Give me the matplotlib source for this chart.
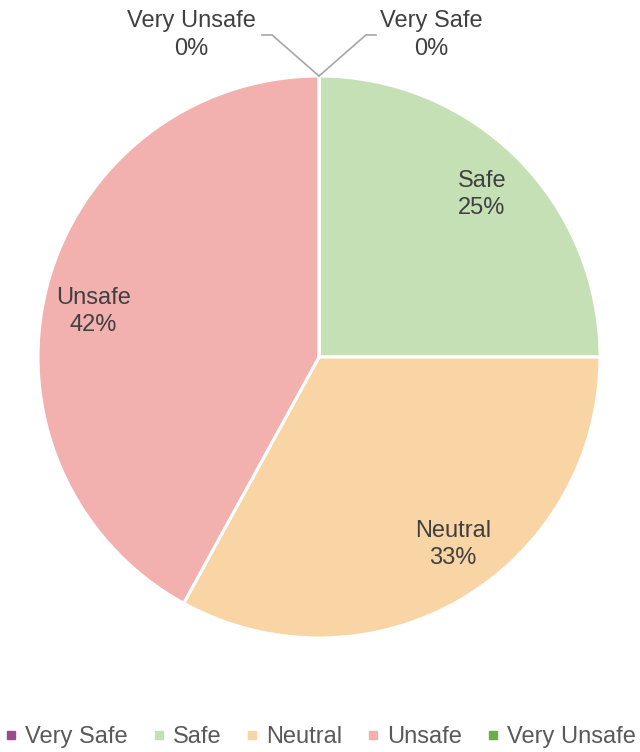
import numpy as np
import matplotlib.pyplot as plt
from matplotlib.lines import Line2D

plt.rcParams['font.family'] = ['Liberation Sans', 'DejaVu Sans']

# data: survey answers (percent)
categories = ['Very Safe', 'Safe', 'Neutral', 'Unsafe', 'Very Unsafe']
values = [0, 25, 33, 42, 0]
colors = ['#9c4a8e', '#c5e0b4', '#f9d4a5', '#f2b0ae', '#6aae47']
text_color = '#404040'

fig = plt.figure(figsize=(6.4, 7.52), dpi=100)
ax = fig.add_axes([38 / 640, 114 / 752, 562 / 640, 562 / 752])

wedges, _ = ax.pie(values, colors=colors, startangle=90, counterclock=False,
                   wedgeprops=dict(edgecolor='white', linewidth=2.2))
ax.set_xlim(-1, 1)
ax.set_ylim(-1, 1)
ax.set_aspect('equal')
ax.axis('off')

total = sum(values)
pcts = [round(100 * v / total) for v in values]

# labels inside the non-zero slices
tweak = {'Safe': 0, 'Neutral': 5, 'Unsafe': 3}
for w, name, p in zip(wedges, categories, pcts):
    if p == 0:
        continue
    mid = np.deg2rad((w.theta1 + w.theta2) / 2 + tweak.get(name, 0))
    ax.text(0.82 * np.cos(mid), 0.82 * np.sin(mid), f'{name}\n{p}%',
            ha='center', va='center', fontsize=17, color=text_color,
            linespacing=1.3)

# zero slices get leader lines out of the top of the pie
for name, p, side, tx in [('Very Unsafe', pcts[4], -1, -0.455),
                          ('Very Safe', pcts[0], 1, 0.40)]:
    ax.plot([0, side * 0.167, side * 0.203], [1.0, 1.146, 1.146],
            color='#a6a6a6', lw=1.2, clip_on=False)
    ax.text(tx, 1.146, f'{name}\n{p}%',
            ha='center', va='center', fontsize=17, color=text_color,
            linespacing=1.3, clip_on=False)

handles = [Line2D([], [], marker='s', linestyle='', markersize=5.5,
                  markerfacecolor=c, markeredgecolor=c) for c in colors]
leg = fig.legend(handles, categories, loc='lower center', ncol=5,
                 bbox_to_anchor=(0.5, -0.023), frameon=False, fontsize=17,
                 handlelength=0.6, handletextpad=0.3, columnspacing=1.0,
                 labelcolor='#595959')

fig.savefig('out.png', dpi=100)
